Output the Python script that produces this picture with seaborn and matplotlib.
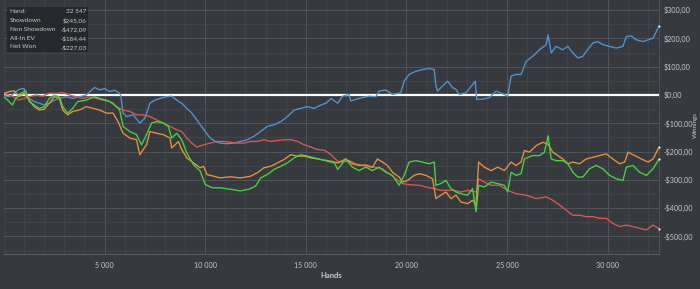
import matplotlib
matplotlib.use("Agg")
import matplotlib.pyplot as plt
from matplotlib.ticker import MultipleLocator, FuncFormatter
from matplotlib import font_manager
import seaborn as sns
import pandas as pd

# ---- data ----
blue_hands = [0,250,500,750,1000,1083,1250,1500,1750,2000,
              2250,2500,2750,3083,3417,3750,4083,4500,4750,5000,
              5250,5500,5750,5800,5917,6083,6417,6750,7000,7250,
              7500,7750,8083,8333,8583,8833,9083,9333,9583,9750,
              10000,10250,10500,10750,11083,11417,11750,12083,12417,12750,
              13083,13417,13750,14083,14417,14750,15083,15417,15750,16000,
              16250,16583,16813,17145,17228,17477,17809,18141,18473,18639,
              18971,19303,19718,19884,20133,20465,20797,21129,21378,21461,
              21544,21793,22042,22291,22457,22623,22955,23287,23420,23486,
              23785,24117,24449,24864,25030,25196,25445,25694,25943,26275,
              26607,26939,27038,27188,27437,27769,28018,28267,28516,28765,
              28931,29263,29512,29761,30093,30425,30757,30923,31172,31421,
              31753,32251,32417,32547]
showdown = [0,-6,6,20,23,0,-12,-23,-29,-35,
            -29,-18,-12,-6,-12,-6,0,27,18,23,
            12,17,6,0,-64,-76,-70,-99,-82,-29,
            -18,-12,-6,-4,-18,-29,-47,-64,-88,-105,
            -129,-152,-164,-170,-172,-170,-164,-158,-146,-129,
            -111,-105,-94,-76,-53,-47,-41,-47,-35,-29,
            -12,-29,-4,2,-21,-15,-9,-4,-6,14,
            18,2,8,49,73,84,90,94,90,32,
            14,32,49,26,20,2,8,37,49,-15,
            -15,-9,14,2,-4,67,73,73,119,137,
            160,178,213,149,172,160,172,149,131,137,
            154,184,189,178,172,166,172,207,209,195,
            189,201,225,245.06]

red_hands = [0,417,750,1000,1250,1583,1917,2250,2583,2917,
             3250,3583,3917,4250,4583,4917,5250,5583,5917,6250,
             6583,6917,7250,7583,7917,8250,8583,8833,9083,9333,
             9583,9917,10250,10583,10917,11250,11583,11917,12250,12583,
             12917,13250,13583,13917,14250,14583,14917,15250,15583,15917,
             16250,16583,16813,17145,17477,17809,18141,18473,18805,19137,
             19469,19801,20133,20631,20963,21378,21710,22042,22374,22706,
             23038,23500,23580,23868,24200,24615,25030,25445,25943,26441,
             26939,27271,27603,27935,28267,28599,28931,29263,29595,29927,
             30259,30591,30923,31255,31587,31919,32251,32547]
non_showdown = [6,-4,-18,-12,-6,0,-4,6,6,9,
                0,-6,-12,-6,-12,-18,-23,-41,-53,-58,
                -70,-70,-76,-88,-99,-111,-123,-129,-152,-170,
                -184,-176,-170,-164,-164,-167,-170,-170,-164,-164,
                -158,-164,-161,-158,-158,-164,-176,-184,-193,-195,
                -211,-234,-237,-232,-243,-249,-255,-255,-261,-278,
                -296,-313,-317,-319,-325,-331,-337,-337,-337,-343,
                -337,-343,-296,-308,-319,-319,-337,-349,-354,-366,
                -360,-372,-389,-407,-425,-425,-430,-430,-436,-436,
                -454,-465,-460,-465,-471,-477,-460,-472.09]

orange_hands = [0,250,500,750,1000,1250,1500,1750,2000,2250,
                2500,2750,2917,3167,3417,3750,4083,4417,4750,5083,
                5417,5667,5917,6250,6583,6750,6917,7083,7250,7583,
                7917,8250,8333,8500,8667,8833,9083,9417,9750,9917,
                10083,10417,10750,11250,11750,12250,12583,12917,13250,13583,
                13917,14250,14583,14917,15250,15750,16250,16583,16979,17311,
                17643,17975,18307,18556,18805,19054,19303,19635,19801,20050,
                20382,20631,20963,21295,21461,21710,21959,22208,22457,22706,
                23038,23287,23453,23586,23868,24200,24532,24864,25196,25445,
                25694,25860,26109,26441,26773,27022,27271,27520,27769,28018,
                28267,28599,28931,29263,29595,29927,30259,30591,30840,31006,
                31338,31670,32002,32251,32547]
allin_ev = [6,12,15,-6,6,-18,-41,-53,-50,-29,
            -6,-12,-53,-70,-58,-53,-41,-47,-53,-64,
            -64,-94,-135,-152,-158,-211,-193,-176,-129,-135,
            -140,-152,-187,-176,-164,-193,-222,-240,-257,-252,
            -281,-287,-293,-289,-293,-287,-275,-257,-252,-240,
            -228,-211,-216,-216,-222,-228,-234,-240,-226,-243,
            -249,-247,-255,-226,-237,-249,-273,-290,-308,-302,
            -284,-278,-284,-296,-366,-354,-343,-366,-354,-378,
            -384,-372,-389,-237,-255,-267,-255,-267,-237,-249,
            -237,-196,-202,-179,-167,-173,-202,-214,-226,-243,
            -237,-243,-226,-220,-214,-208,-226,-243,-237,-202,
            -214,-226,-237,-226,-184.44]

green_hands = [0,250,417,583,833,1083,1250,1500,1750,2000,
               2250,2500,2750,2917,3167,3417,3667,4083,4500,4750,
               5083,5417,5750,5917,6250,6583,6833,7083,7333,7583,
               7917,8167,8333,8583,8833,9083,9417,9750,10000,10333,
               10750,11250,11750,12167,12500,12750,13083,13417,13750,14083,
               14417,14750,15083,15417,15750,16083,16417,16583,16979,17311,
               17643,17975,18307,18639,18971,19303,19635,19884,20133,20465,
               20797,21129,21378,21461,21710,21959,22208,22457,22706,23038,
               23287,23453,23586,23868,24200,24532,24864,25030,25196,25445,
               25694,25860,26275,26607,26856,27038,27188,27437,27769,28018,
               28267,28516,28765,29097,29429,29761,30093,30425,30757,30923,
               31255,31587,31919,32251,32547]
net_won = [-6,-23,-35,-12,6,15,-23,-35,-47,-41,
           -12,0,-6,-41,-64,-47,-23,-18,-6,-12,
           -18,-29,-53,-111,-129,-140,-176,-140,-99,-94,
           -99,-111,-152,-135,-158,-205,-246,-269,-316,-328,
           -328,-333,-339,-333,-322,-293,-281,-263,-252,-240,
           -222,-211,-216,-222,-228,-234,-240,-263,-226,-255,
           -267,-255,-267,-255,-273,-284,-319,-284,-237,-232,
           -237,-243,-237,-319,-313,-302,-331,-343,-349,-354,
           -331,-413,-319,-325,-308,-313,-319,-343,-273,-284,
           -278,-226,-214,-214,-202,-144,-226,-232,-232,-243,
           -273,-290,-290,-261,-249,-261,-284,-296,-302,-255,
           -249,-273,-284,-261,-227.03]

series_names = ["Showdown", "Non Showdown", "All-In EV", "Net Won"]
total_hands = "32 547"
summary_values = ["$245,06", "-$472,09", "-$184,44", "-$227,03"]
x_ticks = [5000, 10000, 15000, 20000, 25000, 30000]
y_ticks = [-500, -400, -300, -200, -100, 0, 100, 200, 300]

# ---- long-form table ----
frames = []
for name, hx, vals in [("Showdown", blue_hands, showdown),
                       ("Non Showdown", red_hands, non_showdown),
                       ("All-In EV", orange_hands, allin_ev),
                       ("Net Won", green_hands, net_won)]:
    frames.append(pd.DataFrame({"Hands": hx, "Winnings": vals, "Series": name}))
df = pd.concat(frames, ignore_index=True)

palette = {"Showdown": "#4b98d2", "Non Showdown": "#dc5656",
           "All-In EV": "#ee9238", "Net Won": "#3ddc3a"}

BG = "#363a3f"
TXT = "#c9cbcd"

sns.set_theme(style="dark")
installed = {f.name for f in font_manager.fontManager.ttflist}
narrow = "Liberation Sans Narrow" if "Liberation Sans Narrow" in installed else None
if narrow:
    FAM = [narrow, "DejaVu Sans"]
    SCALE = 1.0
else:
    FAM = ["Lato", "DejaVu Sans"]
    SCALE = 0.85
plt.rcParams["font.family"] = FAM

fig = plt.figure(figsize=(7.0, 2.89), dpi=100, facecolor=BG)
ax = fig.add_axes([4/700, 1 - 254/289, 655/700, 254/289])
ax.set_facecolor(BG)

ax.axhline(0, color="white", lw=1.6, zorder=3)

sns.lineplot(data=df, x="Hands", y="Winnings", hue="Series", palette=palette,
             hue_order=series_names, estimator=None, sort=False,
             linewidth=0.95, legend=False, ax=ax, zorder=4)

# endpoint markers
ends = df.groupby("Series").tail(1)
ax.scatter(ends["Hands"], ends["Winnings"], s=2.5, color="#eeeeee", marker="o",
           zorder=6, linewidths=0, clip_on=False)

ax.set_xlim(0, 32547)
ax.set_ylim(-562, 336)

ax.xaxis.set_major_locator(plt.FixedLocator(x_ticks))
ax.xaxis.set_minor_locator(MultipleLocator(1000))
ax.yaxis.set_major_locator(plt.FixedLocator(y_ticks))
ax.yaxis.set_minor_locator(MultipleLocator(50))
ax.xaxis.set_major_formatter(FuncFormatter(lambda v, p: f"{int(v):,}".replace(",", " ")))


def money(v, p):
    s = f"${abs(v):.2f}".replace(".", ",")
    return ("-" + s) if v < 0 else s


ax.yaxis.set_major_formatter(FuncFormatter(money))
ax.yaxis.tick_right()

ax.grid(which="major", color="#51555b", lw=0.7)
ax.grid(which="minor", color="#43474c", lw=0.6)
ax.tick_params(axis="both", which="both", length=0, colors=TXT,
               labelsize=6.0 * SCALE)
ax.tick_params(axis="x", pad=6)
ax.tick_params(axis="y", pad=3.5)
ax.set_xlabel("")
ax.set_ylabel("")
for side in ["top", "left"]:
    ax.spines[side].set_visible(False)
ax.spines["bottom"].set_color("#5a5e64")
ax.spines["bottom"].set_linewidth(0.8)
ax.spines["right"].set_color("#4d5157")
ax.spines["right"].set_linewidth(0.8)

fig.text(331/700, 1 - 276/289, "Hands", ha="center", va="center",
         color=TXT, fontsize=6.5 * SCALE, fontweight="bold")
fig.text(695.5/700, 1 - 125/289, "Winnings", ha="center", va="center",
         rotation=90, color=TXT, fontsize=4.5)

# info box
box = plt.Rectangle((7/700, 1 - 52/289), 81/700, 45/289, transform=fig.transFigure,
                    facecolor="#24272b", edgecolor="none", alpha=0.92, zorder=10)
fig.patches.append(box)
labels = ["Hand:"] + series_names
values = [total_hands] + summary_values
rows_y = [11.5, 20.5, 29.5, 38.3, 47]
for lab, val, yy in zip(labels, values, rows_y):
    fig.text(9.5/700, 1 - yy/289, lab, ha="left", va="center", color=TXT,
             fontsize=5.4 * SCALE, zorder=11)
    fig.text(86.5/700, 1 - yy/289, val, ha="right", va="center", color=TXT,
             fontsize=5.4 * SCALE, zorder=11)

fig.savefig("out.png", dpi=100, facecolor=BG)
